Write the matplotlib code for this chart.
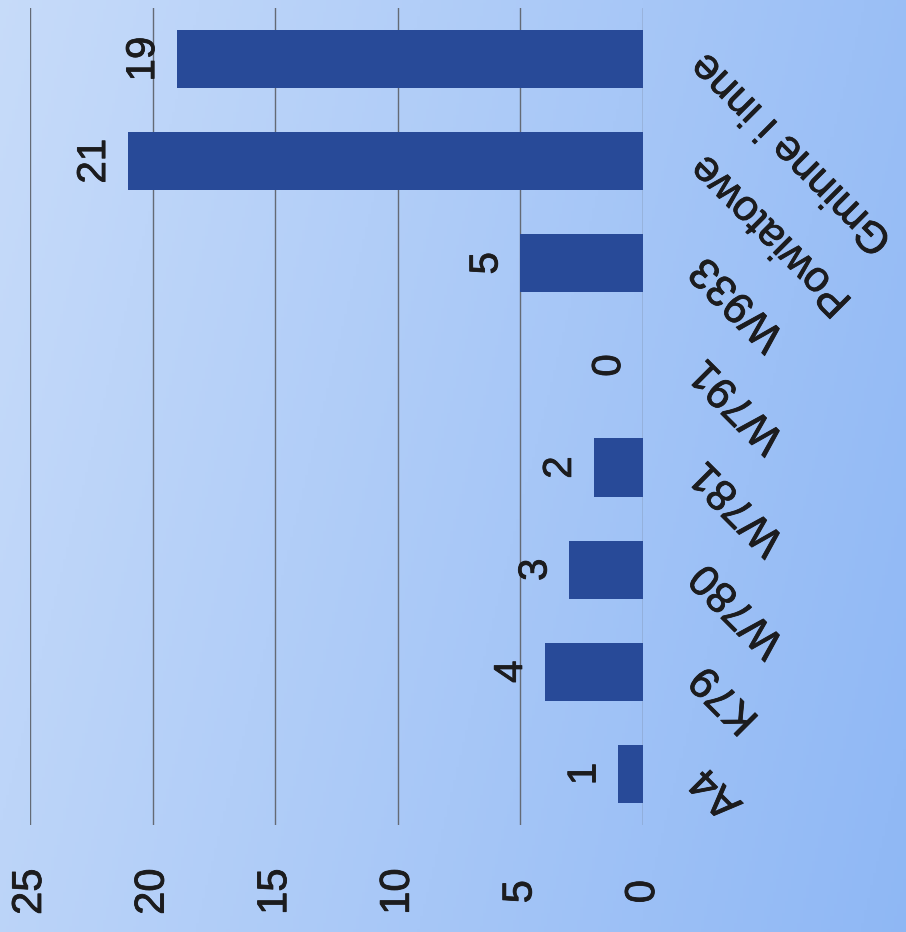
import matplotlib.pyplot as plt
import matplotlib.patheffects as pe
import numpy as np

plt.rcParams['font.family'] = ['Liberation Sans', 'DejaVu Sans']

categories = ['A4', 'K79', 'W780', 'W781', 'W791', 'W933', 'Powiatowe', 'Gminne i inne']
values = [1, 4, 3, 2, 0, 5, 21, 19]
value_ticks = [0, 5, 10, 15, 20, 25]

txt_color = '#1c1c1e'
thick = [pe.withStroke(linewidth=0.6, foreground=txt_color)]

fig = plt.figure(figsize=(9.06, 9.32), dpi=100)

# soft blue backdrop, lighter towards the upper left
bg = fig.add_axes([0, 0, 1, 1], zorder=-10)
gx, gy = np.meshgrid(np.linspace(0, 1, 300), np.linspace(0, 1, 300))
t = np.clip(0.8 * gx + 0.2 * gy, 0, 1)
c0 = np.array([0.78, 0.86, 0.98])
c1 = np.array([0.56, 0.72, 0.96])
img = c0[None, None, :] * (1 - t[..., None]) + c1[None, None, :] * t[..., None]
bg.imshow(img, aspect='auto', extent=[0, 1, 0, 1], origin='upper')
bg.axis('off')

ax = fig.add_axes([30 / 906, 1 - 825 / 932, (643 - 30) / 906, (825 - 8) / 932])
ax.patch.set_alpha(0)

y = np.arange(len(categories))
bars = ax.barh(y, values, height=0.57, color='#284a98', zorder=3)

ax.set_xlim(25, 0)
ax.set_ylim(-0.5, len(categories) - 0.5)
ax.set_xticks(value_ticks)
ax.set_xticklabels([str(v) for v in value_ticks], rotation=90, fontsize=30,
                   va='center', ha='center', color=txt_color, path_effects=thick)
ax.tick_params(axis='x', length=0, pad=48)
ax.xaxis.grid(True, color='#646a75', linewidth=1.0, zorder=1)

ax.yaxis.tick_right()
ax.set_yticks(y)
ax.set_yticklabels(categories, rotation=135, fontsize=31, ha='right', va='center',
                   rotation_mode='anchor', color=txt_color, path_effects=thick)
ax.tick_params(axis='y', length=0, pad=40)

for s in ax.spines.values():
    s.set_visible(False)

for rect, v in zip(bars, values):
    ax.annotate(str(v), xy=(v, rect.get_y() + rect.get_height() / 2),
                xytext=(-15, 0), textcoords='offset pixels',
                rotation=90, fontsize=29, ha='right', va='center', zorder=4,
                color=txt_color, path_effects=thick)

fig.savefig('out.png', dpi=100)
